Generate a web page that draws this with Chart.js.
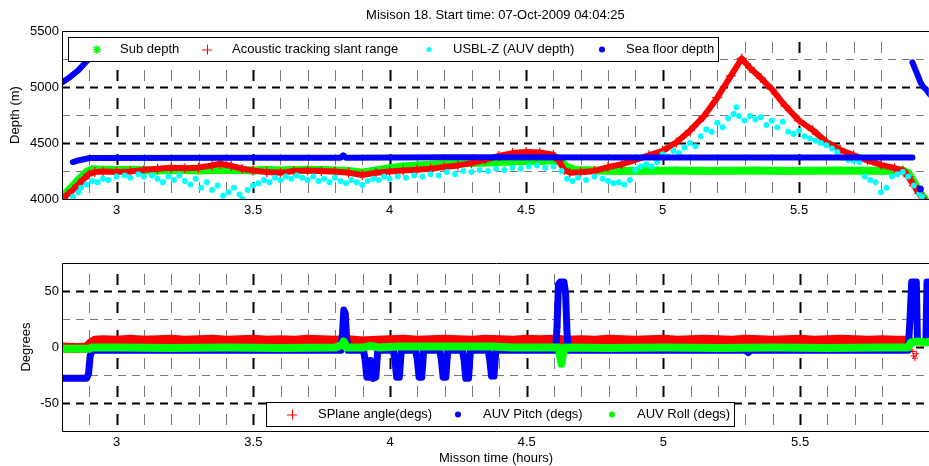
<!DOCTYPE html>
<html>
<head>
<meta charset="utf-8">
<script src="https://cdn.jsdelivr.net/npm/chart.js"></script>
<style>
body { margin: 0; background: #fff; }
#wrap { position: relative; width: 929px; height: 466px; overflow: hidden; }
canvas { position: absolute; left: 0; }
</style>
</head>
<body>
<div id="wrap">
  <canvas id="depthChart" width="935" height="232" style="top:0"></canvas>
  <canvas id="angleChart" width="935" height="234" style="top:232px"></canvas>
</div>
<script>
// ---- top plot: depths (m) vs mission time (hours)
const subX = [2.80,2.83,2.86,2.89,2.91,2.95,3.00,3.05,3.10,3.15,3.20,3.25,3.30,3.35,3.40,3.45,3.50,3.55,3.60,3.65,
  3.70,3.75,3.80,3.85,3.90,3.95,4.00,4.05,4.10,4.15,4.20,4.25,4.30,4.35,4.40,4.45,4.50,4.55,4.60,4.63,
  4.65,4.68,4.75,4.85,4.95,5.05,5.15,5.25,5.35,5.45,5.55,5.65,5.75,5.85,5.88,5.90,5.92,5.94,5.96];
const subY = [4020,4090,4170,4240,4265,4262,4258,4262,4260,4255,4262,4258,4255,4260,4262,4258,4255,4258,4255,4258,
  4262,4258,4255,4250,4235,4255,4275,4290,4300,4305,4312,4318,4322,4326,4330,4335,4340,4340,4345,4330,
  4285,4260,4255,4250,4252,4255,4250,4252,4255,4250,4252,4255,4252,4250,4255,4230,4150,4060,4000];

const slantX = [2.80,2.82,2.84,2.86,2.88,2.90,2.92,2.95,3.00,3.05,3.10,3.15,3.20,3.25,3.30,3.35,3.38,3.42,3.46,3.50,
  3.55,3.60,3.65,3.70,3.75,3.80,3.85,3.90,3.95,4.00,4.05,4.10,4.15,4.20,4.25,4.30,4.35,4.40,4.45,4.50,
  4.55,4.60,4.62,4.64,4.66,4.70,4.75,4.80,4.85,4.90,4.95,5.00,5.05,5.10,5.15,5.20,5.25,5.29,5.32,5.36,
  5.40,5.45,5.50,5.55,5.60,5.65,5.70,5.75,5.80,5.85,5.88,5.90,5.92,5.94,5.96];
const slantY = [4005,4040,4080,4130,4180,4225,4240,4245,4240,4245,4260,4270,4280,4275,4280,4300,4315,4295,4270,4255,
  4240,4235,4250,4255,4250,4245,4235,4215,4235,4245,4255,4262,4270,4285,4300,4320,4350,4385,4410,4420,
  4415,4395,4340,4260,4235,4238,4250,4285,4310,4350,4390,4430,4505,4610,4735,4905,5100,5255,5170,5080,
  4980,4830,4700,4615,4510,4440,4390,4345,4305,4275,4255,4200,4120,4050,3990];

const usblX = [2.84,2.86,2.87,2.89,2.91,2.93,2.95,2.97,3.00,3.03,3.05,3.08,3.10,3.13,3.15,3.17,3.19,3.21,3.23,3.25,
  3.27,3.29,3.31,3.33,3.35,3.37,3.39,3.41,3.43,3.45,3.46,3.48,3.50,3.52,3.54,3.56,3.58,3.60,3.62,3.64,
  3.66,3.68,3.70,3.72,3.74,3.76,3.78,3.80,3.82,3.84,3.86,3.88,3.90,3.92,3.94,3.96,3.98,4.00,4.03,4.06,
  4.09,4.12,4.15,4.18,4.21,4.24,4.27,4.30,4.33,4.36,4.39,4.42,4.45,4.48,4.51,4.54,4.57,4.60,4.63,4.65,
  4.67,4.69,4.72,4.75,4.78,4.80,4.82,4.84,4.86,4.88,4.90,4.92,4.94,4.96,4.98,5.00,5.02,5.04,5.06,5.08,
  5.10,5.12,5.14,5.16,5.18,5.20,5.22,5.24,5.26,5.27,5.28,5.30,5.32,5.34,5.36,5.38,5.40,5.42,5.44,5.46,
  5.48,5.50,5.52,5.54,5.56,5.58,5.60,5.62,5.64,5.66,5.68,5.70,5.72,5.74,5.76,5.78,5.80,5.82,5.84,5.86,
  5.88,5.90,5.92,5.94,5.95];
const usblY = [4020,4060,4100,4130,4160,4150,4180,4170,4200,4210,4190,4220,4200,4210,4180,4150,4200,4170,4210,4160,
  4130,4180,4100,4150,4080,4120,4030,4060,4100,4040,4000,4080,4120,4140,4170,4150,4190,4170,4200,4180,
  4210,4190,4170,4200,4160,4180,4150,4190,4160,4140,4170,4150,4125,4160,4180,4170,4200,4180,4200,4190,
  4210,4200,4220,4210,4240,4220,4250,4240,4260,4250,4270,4260,4280,4270,4290,4300,4280,4290,4250,4180,
  4160,4190,4170,4200,4180,4160,4140,4150,4130,4170,4260,4290,4310,4290,4330,4400,4380,4430,4410,4460,
  4500,4470,4560,4620,4600,4680,4640,4720,4760,4820,4740,4700,4740,4710,4730,4660,4700,4640,4690,4600,
  4580,4610,4560,4540,4520,4500,4480,4450,4420,4370,4350,4340,4330,4200,4170,4150,4060,4100,4200,4220,
  4240,4200,4120,4050,4020];

// null splits the sea floor trace into its separate pieces
const seaX = [2.80,2.83,2.86,2.89,2.92,2.93,2.84,2.86,2.88,2.90,3.50,3.82,3.83,3.84,4.20,5.00,5.50,5.915,5.92,
  5.915,5.93,5.945,5.955,5.965,5.98,5.985,5.944];
const seaY = [5040,5090,5150,5230,5300,null,4330,4345,4355,4365,4368,4368,4390,4368,4372,4370,4370,4370,null,
  5220,5130,5040,5000,4980,4930,null,4090];

// ---- bottom plot: angles (degrees)
const splaneX = [2.80,2.85,2.89,2.905,2.92,2.95,3.00,3.05,3.10,3.15,3.20,3.25,3.30,3.35,3.40,3.45,3.50,3.55,3.60,3.65,
  3.70,3.75,3.80,3.85,3.90,3.95,4.00,4.05,4.10,4.15,4.20,4.25,4.30,4.35,4.40,4.45,4.50,4.55,4.60,4.65,
  4.70,4.75,4.80,4.85,4.90,4.95,5.00,5.05,5.10,5.15,5.20,5.25,5.30,5.35,5.40,5.45,5.50,5.55,5.60,5.65,
  5.70,5.75,5.80,5.85,5.89];
const splaneY = [-0.5,-1,-0.5,3,5.5,6,5.5,6.5,5.5,6,6.5,5.5,6,6.5,5.5,6,6.5,5.5,6,5.5,
  6.5,6,5.5,6,5,5.5,6,6.5,5.5,6,6.5,6,5.5,6.5,6,5.5,6.5,6,6.5,5.5,
  6,5.5,6.5,6,5.5,6,6.5,5.5,6,6.5,6,5.5,6.5,6,5.5,6,6.5,5.5,6,6.5,
  6,5.5,6,5.5,5.5];
const splaneOutX = [3.826,3.828,3.830,3.832,3.909,3.912,3.914,4.017,4.020,4.022,4.099,4.102,4.104,4.187,4.190,4.192,
  4.270,4.273,4.275,4.364,4.367,4.369,4.612,4.614,4.616,4.618,5.900,5.902,5.904,5.912,5.915,5.920,5.925];
const splaneOutY = [9,12,15,17,-8,-13,-18,-7,-12,-16,-8,-13,-17,-7,-12,-15,
  -9,-14,-18,-6,-10,-13,14,18,10,-3,12,18,8,-4,-8,-10,-6];

const pitchX = [2.80,2.89,2.897,2.903,2.91,3.30,3.82,3.826,3.831,3.836,3.841,3.846,
  3.903,3.909,3.915,3.924,3.928,3.932,3.938,3.948,3.955,
  4.012,4.018,4.024,4.034,4.041, 4.094,4.100,4.106,4.116,4.123,
  4.182,4.188,4.194,4.204,4.211, 4.265,4.271,4.277,4.287,4.294,
  4.359,4.365,4.371,4.380,4.387,
  4.606,4.611,4.616,4.622,4.636,4.642,4.647,4.651,
  5.30,5.31,5.32,
  5.895,5.902,5.908,5.925,5.929,5.960,5.964,5.985];
const pitchY = [-28,-28,-24,-8,-3,-3,-3,12,33,30,8,-3,
  -3,-12,-27,-27,-12,-20,-28,-27,-3,
  -3,-12,-27,-27,-3, -3,-12,-27,-27,-3,
  -3,-12,-27,-27,-3, -3,-12,-28,-28,-3,
  -3,-12,-26,-26,-3,
  -3,20,56,58,58,48,15,-3,
  -3,-5,-3,
  -3,25,58,58,5,5,58,58];

const rollX = [2.80,2.90,2.91,3.00,3.20,3.40,3.60,3.80,3.825,3.83,3.835,3.84,3.90,3.93,3.96,4.03,4.11,4.20,4.29,4.37,
  4.45,4.55,4.618,4.622,4.627,4.632,4.64,4.80,5.00,5.20,5.40,5.60,5.80,5.895,5.905,5.93,5.96,5.98];
const rollY = [-1.5,-1.5,-0.5,-0.5,-0.8,-0.5,-0.8,-0.5,2,5,3,-0.5,-0.5,1,-0.5,0.5,0.5,0.5,0.5,0.5,
  -0.5,-0.5,-0.5,-8,-15,-6,-0.5,-0.8,-0.5,-0.8,-0.5,-0.8,-0.5,-0.5,4,5,4,5];

const FONT = '"Liberation Sans", Arial, Helvetica, sans-serif';
Chart.defaults.font.family = FONT;
Chart.defaults.font.size = 13;
Chart.defaults.color = '#000';

function pts(xs, ys) {
  return xs.map((x, i) => ({ x: x, y: ys[i] }));
}

function drawMarker(ctx, style, color, x, y) {
  ctx.save();
  ctx.strokeStyle = color;
  ctx.fillStyle = color;
  ctx.setLineDash([]);
  ctx.beginPath();
  if (style === 'star') {
    ctx.lineWidth = 1.6;
    ctx.moveTo(x - 4, y); ctx.lineTo(x + 4, y);
    ctx.moveTo(x, y - 4); ctx.lineTo(x, y + 4);
    ctx.moveTo(x - 3, y - 3); ctx.lineTo(x + 3, y + 3);
    ctx.moveTo(x - 3, y + 3); ctx.lineTo(x + 3, y - 3);
    ctx.stroke();
  } else if (style === 'cross') {
    ctx.lineWidth = 1;
    ctx.moveTo(x - 5, y + 0.5); ctx.lineTo(x + 5, y + 0.5);
    ctx.moveTo(x + 0.5, y - 5); ctx.lineTo(x + 0.5, y + 5);
    ctx.stroke();
  } else {
    ctx.arc(x, y, style === 'dotSmall' ? 2.5 : 3, 0, Math.PI * 2);
    ctx.fill();
  }
  ctx.restore();
}

// matlab style dashed grid + axes box
const matlabGrid = {
  id: 'matlabGrid',
  beforeDatasetsDraw(chart, args, o) {
    const { ctx, chartArea: a, scales } = chart;
    const x = scales.x, y = scales.y;
    ctx.save();
    x.ticks.forEach(t => {
      const v = t.value;
      if (v <= x.min + 1e-6 || v >= x.max - 1e-6) return;
      const major = Math.abs(v * 2 - Math.round(v * 2)) < 1e-6;
      const px = Math.round(x.getPixelForValue(v)) + 0.5;
      ctx.beginPath();
      ctx.setLineDash([11, 17]);
      ctx.lineDashOffset = 17;
      ctx.strokeStyle = major ? '#000' : '#7a7a7a';
      ctx.lineWidth = major ? 2 : 1;
      ctx.moveTo(px, a.top); ctx.lineTo(px, a.bottom);
      ctx.stroke();
    });
    y.ticks.forEach(t => {
      const v = t.value;
      if (v <= y.min + 1e-6 || v >= y.max - 1e-6) return;
      const major = Math.abs(v / o.yMajor - Math.round(v / o.yMajor)) < 1e-6;
      const py = Math.round(y.getPixelForValue(v)) + 0.5;
      ctx.beginPath();
      ctx.setLineDash([8, 6]);
      ctx.lineDashOffset = 0;
      ctx.strokeStyle = major ? '#000' : '#7a7a7a';
      ctx.lineWidth = major ? 2 : 1;
      ctx.moveTo(a.left, py); ctx.lineTo(a.right, py);
      ctx.stroke();
    });
    ctx.restore();
  },
  afterDatasetsDraw(chart) {
    const { ctx, chartArea: a } = chart;
    ctx.save();
    ctx.setLineDash([]);
    ctx.strokeStyle = '#000';
    ctx.lineWidth = 1;
    ctx.beginPath();
    ctx.moveTo(a.right + 0.5, a.top + 0.5);
    ctx.lineTo(a.left + 0.5, a.top + 0.5);
    ctx.lineTo(a.left + 0.5, a.bottom + 0.5);
    ctx.lineTo(a.right + 0.5, a.bottom + 0.5);
    ctx.stroke();
    ctx.restore();
  }
};

// boxed legend drawn over the data like matlab's
const boxLegend = {
  id: 'boxLegend',
  afterDatasetsDraw(chart, args, o) {
    const ctx = chart.ctx;
    ctx.save();
    ctx.setLineDash([]);
    ctx.fillStyle = '#fff';
    ctx.fillRect(o.left, o.top, o.width, o.height);
    ctx.strokeStyle = '#000';
    ctx.lineWidth = 1;
    ctx.strokeRect(o.left + 0.5, o.top + 0.5, o.width, o.height);
    const cy = o.top + o.height / 2 + 0.5;
    ctx.font = '13px ' + FONT;
    ctx.textBaseline = 'middle';
    ctx.textAlign = 'left';
    o.items.forEach(it => {
      const ds = chart.data.datasets[it.index];
      drawMarker(ctx, it.style, ds.borderColor, it.marker, cy);
      ctx.fillStyle = '#000';
      ctx.fillText(ds.label, it.text, cy);
    });
    ctx.restore();
  }
};

function xScale(withTitle) {
  return {
    type: 'linear', min: 2.8, max: 5.975,
    grid: { display: false, drawTicks: false },
    border: { display: false },
    ticks: {
      stepSize: 0.1, autoSkip: false, maxRotation: 0, padding: 4,
      callback: v => {
        const r = Math.round(v * 10);
        if (Math.abs(v * 10 - r) > 1e-6 || r % 5 !== 0) return '';
        return String(r / 10);
      }
    },
    title: { display: withTitle, text: 'Misson time (hours)', padding: { top: 0, bottom: 0 } },
    afterFit: s => { s.height = withTitle ? 35 : 33; }
  };
}

function yScale(min, max, step, major, label, pad) {
  return {
    min: min, max: max,
    grid: { display: false, drawTicks: false },
    border: { display: false },
    ticks: {
      stepSize: step, padding: 3,
      callback: v => (Math.abs(v / major - Math.round(v / major)) < 1e-6 ? String(v) : '')
    },
    title: { display: true, text: label, padding: { top: pad, bottom: 0 } },
    afterFit: s => { s.width = 62; }
  };
}

const common = {
  responsive: false,
  animation: false,
  devicePixelRatio: 1,
  events: [],
  elements: { line: { borderCapStyle: 'round', borderJoinStyle: 'round', tension: 0 } }
};

new Chart(document.getElementById('depthChart'), {
  type: 'scatter',
  data: {
    datasets: [
      { label: 'Sub depth', data: pts(subX, subY), showLine: true, borderColor: '#00ff00', backgroundColor: '#00ff00',
        borderWidth: 8, pointStyle: 'star', pointRadius: 4, pointBorderWidth: 1.5, order: 4, clip: 0 },
      { label: 'Acoustic tracking slant range', data: pts(slantX, slantY), showLine: true, borderColor: '#ff0000',
        backgroundColor: '#ff0000', borderWidth: 6, pointStyle: 'cross', pointRadius: 5, pointBorderWidth: 1.2, order: 3, clip: 0 },
      { label: 'USBL-Z (AUV depth)', data: pts(usblX, usblY), borderColor: '#00ffff', backgroundColor: '#00ffff',
        pointStyle: 'circle', pointRadius: 3, pointBorderWidth: 0, order: 2, clip: 0 },
      { label: 'Sea floor depth', data: pts(seaX, seaY), showLine: true, spanGaps: false, borderColor: '#0000ff',
        backgroundColor: '#0000ff', borderWidth: 6, pointRadius: seaY.map((v, i) => (i > 0 && seaY[i - 1] === null && i === seaY.length - 1) ? 3.5 : 0),
        pointBorderWidth: 0, order: 1, clip: 0 }
    ]
  },
  options: Object.assign({}, common, {
    layout: { padding: 0 },
    scales: { x: xScale(false), y: yScale(4000, 5500, 250, 500, 'Depth (m)', 8) },
    plugins: {
      legend: { display: false },
      tooltip: { enabled: false },
      title: { display: true, fullSize: false, text: 'Misison 18. Start time: 07-Oct-2009 04:04:25',
        font: { size: 13, weight: 'normal' }, color: '#000', padding: { top: 8, bottom: 7.4 } },
      matlabGrid: { yMajor: 500 },
      boxLegend: { left: 68, top: 37, width: 650, height: 24, items: [
        { index: 0, style: 'star', marker: 97, text: 120 },
        { index: 1, style: 'cross', marker: 207, text: 232 },
        { index: 2, style: 'dotSmall', marker: 429, text: 453 },
        { index: 3, style: 'dot', marker: 602, text: 626 }
      ] }
    }
  }),
  plugins: [matlabGrid, boxLegend]
});

new Chart(document.getElementById('angleChart'), {
  type: 'scatter',
  data: {
    datasets: [
      { label: 'SPlane angle(degs)', data: pts(splaneX, splaneY), showLine: true, borderColor: '#ff0000',
        backgroundColor: '#ff0000', borderWidth: 10, pointRadius: 0, order: 5, clip: 0 },
      { label: 'AUV Pitch (degs)', data: pts(pitchX, pitchY), showLine: true, borderColor: '#0000ff',
        backgroundColor: '#0000ff', borderWidth: 7, pointRadius: 0, order: 2, clip: 0 },
      { label: 'AUV Roll (degs)', data: pts(rollX, rollY), showLine: true, borderColor: '#00ff00',
        backgroundColor: '#00ff00', borderWidth: 8, pointRadius: 0, order: 1, clip: 0 },
      { label: 'SPlane angle(degs) outliers', data: pts(splaneOutX, splaneOutY), borderColor: '#ff0000',
        backgroundColor: '#ff0000', pointStyle: 'cross', pointRadius: 3, pointBorderWidth: 1, order: 4, clip: 0 }
    ]
  },
  options: Object.assign({}, common, {
    layout: { padding: { top: 31, left: 0, right: 0, bottom: 0 } },
    scales: { x: xScale(true), y: yScale(-75, 75, 25, 50, 'Degrees', 19) },
    plugins: {
      legend: { display: false },
      tooltip: { enabled: false },
      matlabGrid: { yMajor: 50 },
      boxLegend: { left: 266, top: 170, width: 468, height: 24, items: [
        { index: 0, style: 'cross', marker: 292, text: 318 },
        { index: 1, style: 'dot', marker: 458, text: 483 },
        { index: 2, style: 'dot', marker: 612, text: 637 }
      ] }
    }
  }),
  plugins: [matlabGrid, boxLegend]
});
</script>
</body>
</html>
